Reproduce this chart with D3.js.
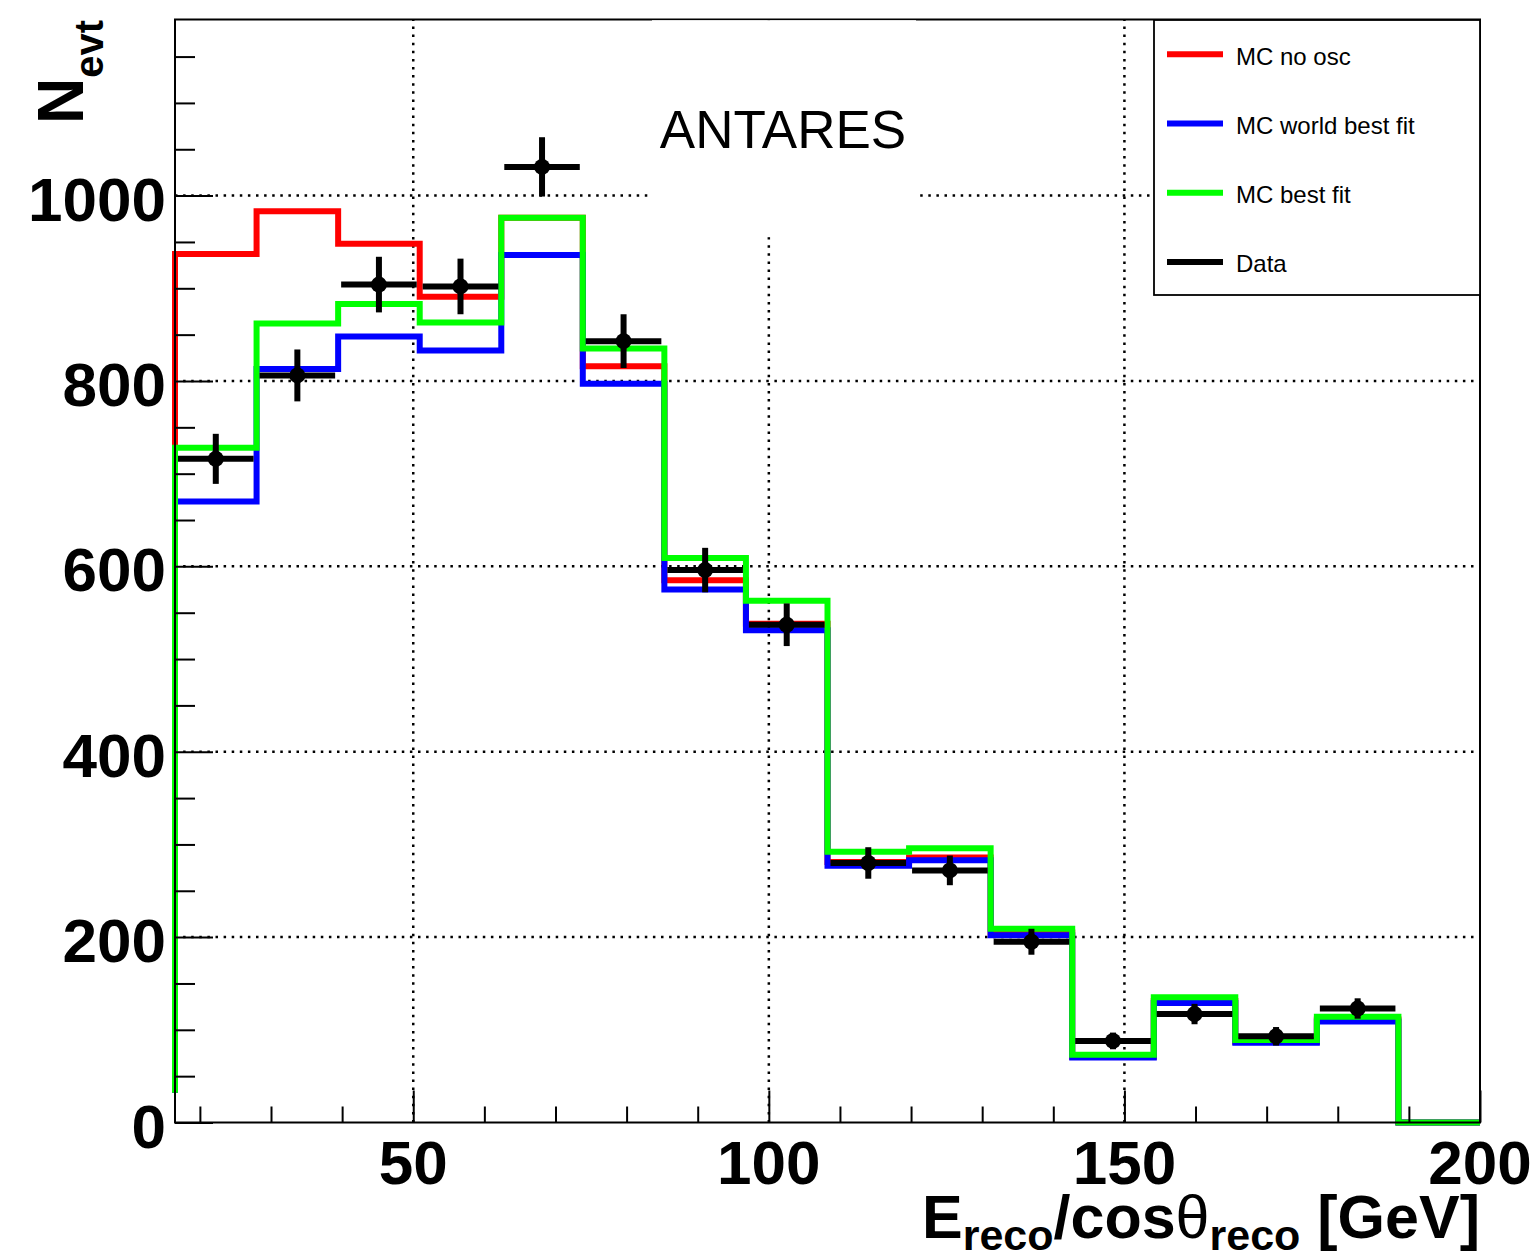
<!DOCTYPE html>
<html>
<head>
<meta charset="utf-8">
<script src="https://cdn.jsdelivr.net/npm/d3@7"></script>
<style>
  html, body { margin: 0; padding: 0; background: #ffffff; }
  svg { display: block; }
</style>
</head>
<body>
<svg id="chart" width="1536" height="1254"></svg>
<script>
// Bin edges of the reconstructed energy histogram [GeV]
const binEdges = [16.5, 27.97, 39.44, 50.91, 62.38, 73.84, 85.31, 96.78, 108.25,
                  119.72, 131.19, 142.66, 154.13, 165.59, 177.06, 188.53, 200];

// Monte Carlo expectations per bin
const mcNoOsc         = [937, 983, 948, 891, 976, 816, 585, 538, 281, 286, 205, 71, 131, 87, 111, 0];
const mcWorldBestFit  = [670, 813, 848, 833, 936, 797, 575, 531, 277, 283, 202, 70, 129, 86, 109, 0];
const mcBestFit       = [728, 862, 883, 863, 976, 835, 609, 563, 292, 296, 209, 73, 135, 89, 114, 0];

// Observed events and their statistical errors (last bin is empty)
const dataCounts = [716, 806, 904, 902, 1031, 843, 596, 537, 280, 272, 195, 88, 117, 93, 123];
const dataErrors = [27, 28, 30, 30, 32, 29, 24, 23, 17, 16, 14, 9, 11, 10, 11];

// Axis ticks and labels
const xTicksMajor = [50, 100, 150, 200];
const xTicksMinor = [20, 30, 40, 60, 70, 80, 90, 110, 120, 130, 140, 160, 170, 180, 190];
const xTickLabels = ["50", "100", "150", "200"];
const yTicksMajor = [0, 200, 400, 600, 800, 1000];
const yTicksMinor = [50, 100, 150, 250, 300, 350, 450, 500, 550, 650, 700, 750,
                     850, 900, 950, 1050, 1100, 1150];
const yTickLabels = ["0", "200", "400", "600", "800", "1000"];
const xGridValues = [50, 100, 150];
const yGridValues = [200, 400, 600, 800, 1000];

// Level where the histogram outline starts on the first bin edge
const histFloor = 32;

const series = [
  { name: "MC no osc",          values: mcNoOsc,        color: "#ff0000" },
  { name: "MC world best fit",  values: mcWorldBestFit, color: "#0000ff" },
  { name: "MC best fit",        values: mcBestFit,      color: "#00ff00" }
];
const legendItems = [
  { name: "MC no osc",         color: "#ff0000" },
  { name: "MC world best fit", color: "#0000ff" },
  { name: "MC best fit",       color: "#00ff00" },
  { name: "Data",              color: "#000000" }
];

const FONT = "'Liberation Sans', Arial, Helvetica, sans-serif";

const svg = d3.select("#chart");
svg.append("rect").attr("width", 1536).attr("height", 1254).attr("fill", "#ffffff");

const x = d3.scaleLinear().domain([binEdges[0], binEdges[binEdges.length - 1]]).range([175, 1480]);
const y = d3.scaleLinear().domain([0, 1190]).range([1122.5, 19.5]);
const [xL, xR] = x.range();
const [yB, yT] = y.range();

// Dotted grid
const grid = svg.append("g")
  .attr("stroke", "#000").attr("stroke-width", 2.5)
  .attr("stroke-dasharray", "2.5,5.6").attr("fill", "none");
grid.append("g").selectAll("line").data(yGridValues).join("line")
  .attr("x1", xL).attr("x2", xR)
  .attr("y1", d => y(d)).attr("y2", d => y(d));
grid.append("g").selectAll("line").data(xGridValues).join("line")
  .attr("x1", d => x(d)).attr("x2", d => x(d))
  .attr("y1", yB).attr("y2", yT);

// Step histograms
function stepPoints(vals) {
  const pts = [[binEdges[0], histFloor]];
  vals.forEach((v, i) => { pts.push([binEdges[i], v], [binEdges[i + 1], v]); });
  return pts;
}
const stepLine = d3.line().x(d => x(d[0])).y(d => y(d[1]));
svg.append("g").selectAll("path").data(series).join("path")
  .attr("d", d => stepLine(stepPoints(d.values)))
  .attr("fill", "none")
  .attr("stroke", d => d.color)
  .attr("stroke-width", 6)
  .attr("stroke-linejoin", "miter")
  .attr("stroke-linecap", "butt");

// Data points with error bars
const pts = dataCounts.map((v, i) => ({
  v, e: dataErrors[i], x0: binEdges[i], x1: binEdges[i + 1], xc: (binEdges[i] + binEdges[i + 1]) / 2
}));
const dataG = svg.append("g");
dataG.selectAll("line.hbar").data(pts).join("line").attr("class", "hbar")
  .attr("x1", d => x(d.x0) + 3).attr("x2", d => x(d.x1) - 3)
  .attr("y1", d => y(d.v)).attr("y2", d => y(d.v))
  .attr("stroke", "#000").attr("stroke-width", 6);
dataG.selectAll("line.vbar").data(pts).join("line").attr("class", "vbar")
  .attr("x1", d => x(d.xc)).attr("x2", d => x(d.xc))
  .attr("y1", d => y(d.v - d.e)).attr("y2", d => y(d.v + d.e))
  .attr("stroke", "#000").attr("stroke-width", 6);
dataG.selectAll("circle").data(pts).join("circle")
  .attr("cx", d => x(d.xc)).attr("cy", d => y(d.v)).attr("r", 8)
  .attr("fill", "#000");

// Axes ticks (drawn inward)
function styleTicks(g) {
  g.select(".domain").remove();
  g.selectAll(".tick line").attr("stroke", "#000").attr("stroke-width", 2);
  g.selectAll(".tick text").remove();
}
svg.append("g").attr("transform", `translate(0,${yB})`)
  .call(d3.axisTop(x).tickValues(xTicksMajor).tickSize(32).tickFormat(""))
  .call(styleTicks);
svg.append("g").attr("transform", `translate(0,${yB})`)
  .call(d3.axisTop(x).tickValues(xTicksMinor).tickSize(16).tickFormat(""))
  .call(styleTicks);
svg.append("g").attr("transform", `translate(${xL},0)`)
  .call(d3.axisRight(y).tickValues(yTicksMajor).tickSize(38).tickFormat(""))
  .call(styleTicks);
svg.append("g").attr("transform", `translate(${xL},0)`)
  .call(d3.axisRight(y).tickValues(yTicksMinor).tickSize(20).tickFormat(""))
  .call(styleTicks);

// Frame
svg.append("rect")
  .attr("x", xL).attr("y", yT).attr("width", xR - xL).attr("height", yB - yT)
  .attr("fill", "none").attr("stroke", "#000").attr("stroke-width", 2);

// Tick labels
svg.append("g").selectAll("text").data(yTicksMajor).join("text")
  .attr("x", 166).attr("y", d => y(d) + 25)
  .attr("text-anchor", "end")
  .attr("font-family", FONT).attr("font-weight", "bold").attr("font-size", 62)
  .text((d, i) => yTickLabels[i]);
svg.append("g").selectAll("text").data(xTicksMajor).join("text")
  .attr("x", d => x(d)).attr("y", 1184)
  .attr("text-anchor", "middle")
  .attr("font-family", FONT).attr("font-weight", "bold").attr("font-size", 62)
  .text((d, i) => xTickLabels[i]);

// Axis titles
const xt = svg.append("text")
  .attr("x", xR).attr("y", 1238).attr("text-anchor", "end")
  .attr("font-family", FONT).attr("font-weight", "bold").attr("font-size", 61)
  .style("white-space", "pre");
xt.append("tspan").text("E");
xt.append("tspan").attr("font-size", 43).attr("dy", 12).text("reco");
xt.append("tspan").attr("dy", -12).text("/cos");
xt.append("tspan").attr("font-weight", "normal").text("θ");
xt.append("tspan").attr("font-size", 43).attr("dy", 12).text("reco");
xt.append("tspan").attr("dy", -12).text(" [GeV]");

const yt = svg.append("text")
  .attr("transform", "translate(83,20) rotate(-90)")
  .attr("text-anchor", "end")
  .attr("font-family", FONT).attr("font-weight", "bold").attr("font-size", 64);
yt.append("tspan").text("N");
yt.append("tspan").attr("font-size", 40).attr("dy", 20).text("evt");

// Experiment label on a white box
svg.append("rect").attr("x", 652).attr("y", 20.2).attr("width", 264).attr("height", 217)
  .attr("fill", "#ffffff");
svg.append("text").attr("x", 783).attr("y", 148).attr("text-anchor", "middle")
  .attr("font-family", FONT).attr("font-size", 53).attr("fill", "#000")
  .text("ANTARES");

// Legend
const lg = svg.append("g");
lg.append("rect").attr("x", 1154).attr("y", 20).attr("width", 326).attr("height", 275)
  .attr("fill", "#ffffff").attr("stroke", "#000").attr("stroke-width", 1.8);
const rows = lg.selectAll("g.row").data(legendItems).join("g").attr("class", "row")
  .attr("transform", (d, i) => `translate(0,${54.3 + i * 69.2})`);
rows.append("line").attr("x1", 1167).attr("x2", 1223).attr("y1", 0).attr("y2", 0)
  .attr("stroke", d => d.color).attr("stroke-width", 6);
rows.append("text").attr("x", 1236).attr("y", 10.5)
  .attr("font-family", FONT).attr("font-size", 24).attr("fill", "#000")
  .text(d => d.name);
</script>
</body>
</html>
